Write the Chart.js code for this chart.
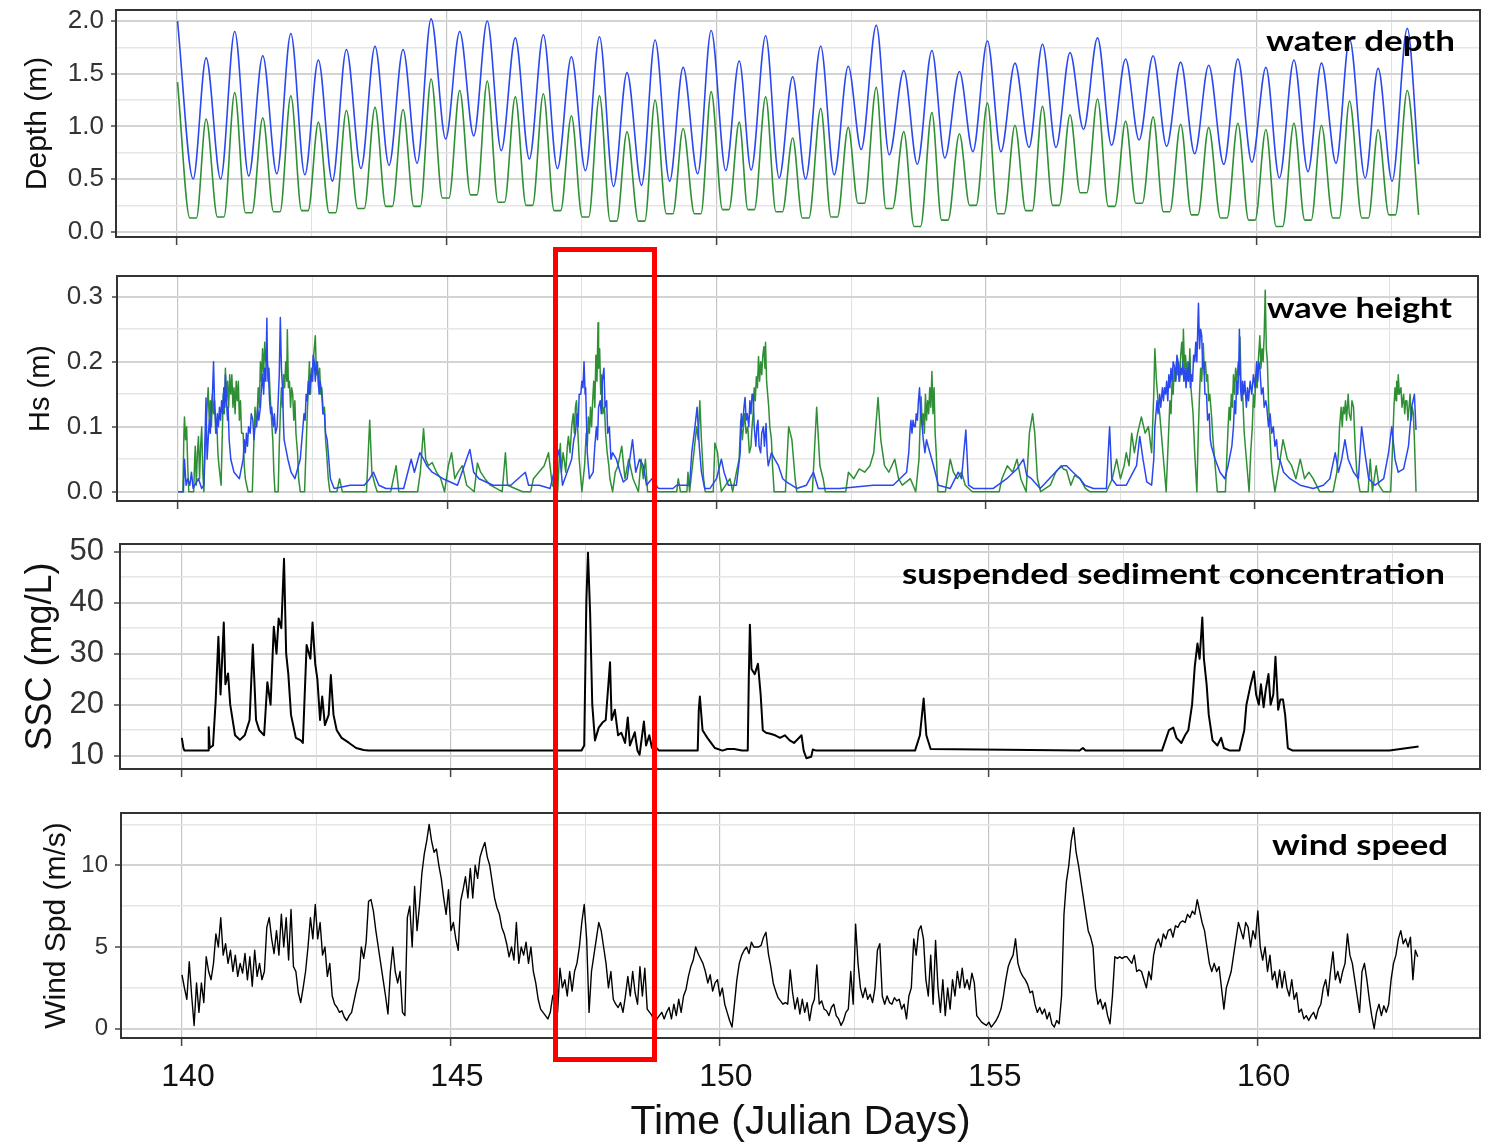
<!DOCTYPE html>
<html><head><meta charset="utf-8">
<script src="https://cdn.jsdelivr.net/npm/chart.js@4.4.1/dist/chart.umd.min.js"></script>
<style>
html,body{margin:0;padding:0;background:#fff;}
#wrap{position:relative;width:1499px;height:1146px;overflow:hidden;background:#fff;}
canvas{position:absolute;left:0;}
#redbox{position:absolute;left:553px;top:247px;width:94px;height:805px;border:5px solid #ff0000;pointer-events:none;}
</style></head>
<body><div id="wrap">
<canvas id="c1" width="1499" height="250" style="top:0px"></canvas>
<canvas id="c2" width="1499" height="270" style="top:250px"></canvas>
<canvas id="c3" width="1499" height="270" style="top:520px"></canvas>
<canvas id="c4" width="1499" height="356" style="top:790px"></canvas>
<div id="redbox"></div>
</div>
<script>
// ---------------- data ----------------
const xMajor = [140,145,150,155,160];
const xMinor = [142.5,147.5,152.5,157.5,162.5];
const depthTicks = [0,0.5,1,1.5,2];  const depthMinor = [0.25,0.75,1.25,1.75];
const hsTicks = [0,0.1,0.2,0.3];     const hsMinor = [0.05,0.15,0.25];
const sscTicks = [10,20,30,40,50];   const sscMinor = [15,25,35,45];
const windTicks = [0,5,10];          const windMinor = [2.5,7.5,12.5];

// water depth (blue sensor): times of high / low water (Julian day) and depth (m)
const depthTime = [140.01,140.30,140.54,140.81,141.07,141.33,141.59,141.85,142.11,142.37,142.62,142.88,143.14,143.41,143.67,143.93,144.19,144.45,144.71,144.98,145.24,145.50,145.75,146.01,146.27,146.53,146.79,147.05,147.31,147.57,147.83,148.09,148.34,148.61,148.86,149.13,149.38,149.65,149.90,150.17,150.42,150.64,150.91,151.16,151.41,151.65,151.93,152.18,152.44,152.68,152.96,153.20,153.47,153.72,153.99,154.23,154.50,154.75,155.02,155.27,155.53,155.79,156.04,156.29,156.55,156.80,157.06,157.32,157.58,157.83,158.09,158.34,158.60,158.86,159.12,159.40,159.66,159.92,160.18,160.43,160.70,160.96,161.21,161.48,161.73,162.02,162.26,162.52,162.80,163.01];
const depthBlue = [2.00,0.50,1.65,0.50,1.90,0.53,1.67,0.55,1.88,0.54,1.63,0.48,1.73,0.60,1.76,0.63,1.73,0.65,2.02,0.88,1.90,0.91,2.00,0.77,1.84,0.69,1.87,0.60,1.66,0.58,1.85,0.43,1.51,0.44,1.82,0.48,1.56,0.55,1.91,0.58,1.62,0.585,1.86,0.51,1.47,0.50,1.76,0.54,1.57,0.78,1.96,0.73,1.53,0.64,1.72,0.70,1.52,0.76,1.81,0.76,1.60,0.80,1.78,0.80,1.70,0.97,1.84,0.82,1.64,0.87,1.67,0.81,1.61,0.74,1.58,0.64,1.64,0.66,1.56,0.51,1.63,0.57,1.60,0.65,1.83,0.51,1.55,0.48,1.93,0.64];
// water depth (green sensor): peaks and the two ends of each flat low-water stretch [day, m]
const depthGreen = [[140.01,1.42],[140.24,0.13],[140.36,0.13],[140.54,1.07],[140.75,0.14],[140.87,0.14],[141.07,1.32],[141.27,0.18],[141.39,0.18],[141.59,1.08],[141.79,0.19],[141.91,0.19],[142.11,1.29],[142.31,0.20],[142.43,0.20],[142.62,1.04],[142.82,0.18],[142.94,0.18],[143.14,1.15],[143.35,0.22],[143.47,0.22],[143.67,1.18],[143.87,0.24],[143.99,0.24],[144.19,1.16],[144.39,0.24],[144.51,0.24],[144.71,1.45],[144.92,0.32],[145.04,0.32],[145.24,1.34],[145.44,0.35],[145.56,0.35],[145.75,1.43],[145.95,0.28],[146.07,0.28],[146.27,1.28],[146.47,0.25],[146.59,0.25],[146.79,1.31],[146.99,0.20],[147.11,0.20],[147.31,1.10],[147.51,0.14],[147.63,0.14],[147.83,1.29],[148.03,0.10],[148.15,0.10],[148.34,0.95],[148.55,0.10],[148.67,0.10],[148.86,1.25],[149.07,0.17],[149.19,0.17],[149.38,0.98],[149.59,0.17],[149.71,0.17],[149.90,1.33],[150.11,0.21],[150.23,0.21],[150.42,1.04],[150.58,0.21],[150.70,0.21],[150.91,1.28],[151.10,0.19],[151.22,0.19],[151.41,0.89],[151.59,0.13],[151.71,0.13],[151.93,1.17],[152.12,0.14],[152.24,0.14],[152.44,0.99],[152.62,0.27],[152.74,0.27],[152.96,1.37],[153.14,0.22],[153.26,0.22],[153.47,0.95],[153.66,0.05],[153.78,0.05],[153.99,1.13],[154.17,0.11],[154.29,0.11],[154.50,0.93],[154.69,0.25],[154.81,0.25],[155.02,1.22],[155.21,0.17],[155.33,0.17],[155.53,1.01],[155.73,0.20],[155.85,0.20],[156.04,1.19],[156.23,0.25],[156.35,0.25],[156.55,1.11],[156.74,0.37],[156.86,0.37],[157.06,1.26],[157.26,0.24],[157.38,0.24],[157.58,1.05],[157.77,0.27],[157.89,0.27],[158.09,1.09],[158.28,0.19],[158.40,0.19],[158.60,1.02],[158.80,0.16],[158.92,0.16],[159.12,0.99],[159.34,0.13],[159.46,0.13],[159.66,1.03],[159.86,0.11],[159.98,0.11],[160.18,0.97],[160.37,0.05],[160.49,0.05],[160.70,1.03],[160.90,0.11],[161.02,0.11],[161.21,1.01],[161.42,0.13],[161.54,0.13],[161.73,1.24],[161.96,0.13],[162.08,0.13],[162.26,0.97],[162.46,0.16],[162.58,0.16],[162.80,1.34],[163.01,0.16]];

// wave height [day, Hs m]
const hsBlue = [[140.00,0],[140.10,0],[140.12,0.05],[140.15,0.01],[140.18,0.02],[140.22,0.01],[140.25,0.03],[140.28,0.005],[140.31,0.01],[140.38,0.02],[140.44,0.005],[140.48,0.01],[140.52,0.144],[140.54,0.05],[140.56,0.08],[140.58,0.11],[140.60,0.09],[140.62,0.13],[140.64,0.15],[140.66,0.2],[140.68,0.13],[140.69,0.12],[140.71,0.09],[140.73,0.12],[140.75,0.1],[140.77,0.13],[140.79,0.11],[140.81,0.14],[140.83,0.12],[140.85,0.16],[140.87,0.13],[140.88,0.18],[140.90,0.14],[140.92,0.11],[140.93,0.13],[140.95,0.08],[140.98,0.05],[141.04,0.03],[141.14,0.02],[141.21,0.05],[141.23,0.08],[141.25,0.06],[141.27,0.09],[141.29,0.07],[141.31,0.1],[141.34,0.09],[141.36,0.12],[141.39,0.11],[141.41,0.08],[141.43,0.1],[141.46,0.1],[141.48,0.13],[141.50,0.11],[141.53,0.13],[141.55,0.16],[141.57,0.18],[141.59,0.15],[141.61,0.19],[141.63,0.17],[141.65,0.267],[141.66,0.2],[141.68,0.18],[141.70,0.14],[141.72,0.12],[141.74,0.13],[141.77,0.1],[141.79,0.12],[141.81,0.09],[141.84,0.1],[141.86,0.14],[141.88,0.18],[141.90,0.268],[141.92,0.19],[141.94,0.16],[141.96,0.1],[141.97,0.08],[142.04,0.05],[142.10,0.03],[142.17,0.02],[142.27,0.05],[142.30,0.08],[142.32,0.1],[142.34,0.12],[142.36,0.11],[142.38,0.15],[142.40,0.14],[142.42,0.17],[142.44,0.15],[142.47,0.18],[142.49,0.17],[142.51,0.21],[142.53,0.2],[142.55,0.17],[142.57,0.2],[142.60,0.18],[142.62,0.15],[142.64,0.17],[142.67,0.15],[142.69,0.12],[142.72,0.12],[142.74,0.09],[142.77,0.08],[142.83,0.02],[142.90,0.005],[143.20,0.01],[143.46,0.01],[143.56,0.02],[143.63,0.03],[143.73,0.01],[143.86,0.005],[144.19,0.005],[144.33,0.05],[144.39,0.03],[144.49,0.06],[144.56,0.05],[144.62,0.04],[144.72,0.03],[144.92,0.02],[145.19,0.01],[145.42,0.065],[145.49,0.03],[145.59,0.02],[145.85,0.01],[146.18,0.01],[146.45,0.03],[146.51,0.01],[146.71,0.01],[146.91,0.005],[147.08,0.065],[147.14,0.01],[147.31,0.05],[147.35,0.08],[147.38,0.09],[147.41,0.12],[147.43,0.1],[147.45,0.15],[147.48,0.15],[147.50,0.17],[147.52,0.16],[147.54,0.2],[147.56,0.15],[147.57,0.16],[147.60,0.06],[147.64,0.02],[147.71,0.03],[147.74,0.07],[147.77,0.1],[147.79,0.08],[147.81,0.13],[147.84,0.14],[147.86,0.12],[147.88,0.17],[147.91,0.19],[147.93,0.13],[147.96,0.14],[147.98,0.09],[148.01,0.1],[148.04,0.05],[148.07,0.06],[148.14,0.05],[148.21,0.03],[148.27,0.015],[148.34,0.02],[148.44,0.08],[148.50,0.03],[148.57,0.05],[148.64,0.04],[148.70,0.01],[148.80,0.02],[148.92,0.005],[149.19,0.005],[149.26,0.01],[149.50,0.01],[149.54,0.06],[149.60,0.1],[149.64,0.13],[149.68,0.07],[149.72,0.03],[149.78,0.005],[149.88,0.005],[150.00,0.02],[150.09,0.05],[150.14,0.03],[150.22,0.01],[150.37,0.01],[150.44,0.06],[150.46,0.12],[150.48,0.1],[150.51,0.13],[150.53,0.145],[150.55,0.11],[150.57,0.12],[150.60,0.1],[150.62,0.14],[150.64,0.12],[150.66,0.15],[150.68,0.15],[150.70,0.1],[150.73,0.07],[150.75,0.1],[150.77,0.11],[150.79,0.07],[150.82,0.06],[150.84,0.09],[150.87,0.1],[150.89,0.07],[150.92,0.105],[150.94,0.06],[150.96,0.04],[151.02,0.06],[151.08,0.05],[151.15,0.04],[151.23,0.02],[151.30,0.015],[151.49,0.005],[151.67,0.01],[151.80,0.03],[151.89,0.005],[152.29,0.005],[152.91,0.01],[153.00,0.01],[153.28,0.01],[153.53,0.03],[153.57,0.06],[153.59,0.09],[153.61,0.11],[153.63,0.09],[153.65,0.11],[153.67,0.1],[153.69,0.1],[153.71,0.12],[153.73,0.11],[153.75,0.14],[153.77,0.16],[153.79,0.12],[153.81,0.11],[153.84,0.08],[153.87,0.06],[153.90,0.08],[153.93,0.07],[154.03,0.04],[154.12,0.01],[154.34,0.005],[154.49,0.03],[154.55,0.02],[154.63,0.095],[154.68,0.01],[154.77,0.005],[155.14,0.005],[155.39,0.02],[155.58,0.035],[155.70,0.05],[155.76,0.025],[155.85,0.02],[156.01,0.005],[156.35,0.035],[156.44,0.04],[156.50,0.04],[156.62,0.03],[156.75,0.02],[156.84,0.01],[157.00,0.005],[157.24,0.005],[157.30,0.1],[157.34,0.02],[157.43,0.01],[157.61,0.01],[157.80,0.04],[157.86,0.085],[157.92,0.05],[157.99,0.015],[158.08,0.01],[158.12,0.05],[158.14,0.1],[158.16,0.12],[158.18,0.14],[158.20,0.12],[158.23,0.15],[158.25,0.13],[158.28,0.16],[158.30,0.14],[158.32,0.16],[158.34,0.15],[158.36,0.17],[158.38,0.14],[158.40,0.18],[158.42,0.16],[158.44,0.19],[158.46,0.17],[158.48,0.2],[158.51,0.19],[158.53,0.17],[158.55,0.21],[158.57,0.2],[158.59,0.17],[158.62,0.19],[158.64,0.18],[158.66,0.2],[158.68,0.17],[158.70,0.19],[158.72,0.16],[158.74,0.19],[158.76,0.17],[158.78,0.2],[158.80,0.16],[158.82,0.18],[158.84,0.17],[158.86,0.21],[158.88,0.2],[158.90,0.23],[158.92,0.2],[158.94,0.26],[158.95,0.29],[158.97,0.22],[158.99,0.25],[159.01,0.24],[159.03,0.19],[159.05,0.2],[159.07,0.15],[159.10,0.15],[159.12,0.11],[159.15,0.12],[159.17,0.08],[159.19,0.07],[159.26,0.05],[159.35,0.03],[159.44,0.02],[159.50,0.04],[159.57,0.07],[159.60,0.1],[159.62,0.14],[159.64,0.12],[159.66,0.17],[159.68,0.15],[159.70,0.2],[159.71,0.25],[159.73,0.16],[159.75,0.14],[159.77,0.17],[159.79,0.15],[159.81,0.17],[159.84,0.13],[159.86,0.16],[159.88,0.14],[159.91,0.17],[159.94,0.15],[159.97,0.18],[160.00,0.16],[160.03,0.2],[160.05,0.17],[160.07,0.2],[160.09,0.19],[160.12,0.15],[160.15,0.16],[160.17,0.13],[160.20,0.14],[160.22,0.13],[160.25,0.1],[160.28,0.12],[160.31,0.09],[160.34,0.1],[160.37,0.07],[160.40,0.08],[160.43,0.05],[160.46,0.05],[160.53,0.03],[160.65,0.02],[160.84,0.01],[161.08,0.005],[161.27,0.01],[161.39,0.02],[161.49,0.06],[161.55,0.03],[161.61,0.05],[161.67,0.08],[161.73,0.05],[161.83,0.03],[161.92,0.02],[161.98,0.1],[162.04,0.06],[162.11,0.02],[162.23,0.01],[162.39,0.02],[162.48,0.06],[162.54,0.1],[162.60,0.05],[162.66,0.03],[162.76,0.035],[162.85,0.07],[162.91,0.13],[162.96,0.15],[162.99,0.095]];
const hsGreen = [[140.00,0],[140.09,0],[140.11,0.09],[140.12,0.115],[140.14,0.08],[140.16,0.10],[140.18,0.04],[140.20,0],[140.29,0],[140.31,0.05],[140.32,0.07],[140.34,0.01],[140.36,0.06],[140.38,0.085],[140.40,0.02],[140.42,0.07],[140.44,0.10],[140.46,0.03],[140.48,0],[140.50,0.06],[140.52,0.10],[140.54,0.13],[140.56,0.16],[140.58,0.11],[140.60,0.14],[140.62,0.10],[140.64,0.15],[140.66,0.12],[140.68,0.14],[140.70,0.09],[140.72,0.11],[140.74,0.06],[140.76,0.04],[140.80,0.01],[140.82,0.08],[140.84,0.15],[140.86,0.12],[140.88,0.19],[140.90,0.14],[140.92,0.17],[140.94,0.13],[140.96,0.18],[140.98,0.15],[141.00,0.18],[141.02,0.13],[141.04,0.16],[141.06,0.12],[141.08,0.17],[141.10,0.14],[141.12,0.17],[141.14,0.11],[141.16,0.14],[141.18,0.09],[141.21,0.09],[141.23,0.04],[141.25,0.02],[141.30,0],[141.38,0],[141.41,0.08],[141.43,0.13],[141.45,0.10],[141.47,0.12],[141.49,0.16],[141.51,0.13],[141.53,0.2],[141.55,0.17],[141.57,0.22],[141.59,0.18],[141.61,0.23],[141.63,0.2],[141.65,0.21],[141.67,0.17],[141.69,0.19],[141.71,0.15],[141.73,0.12],[141.76,0.08],[141.78,0.03],[141.80,0],[141.86,0],[141.88,0.07],[141.90,0.12],[141.92,0.16],[141.94,0.13],[141.96,0.18],[141.98,0.16],[142.00,0.20],[142.02,0.17],[142.03,0.249],[142.05,0.16],[142.07,0.17],[142.09,0.13],[142.11,0.16],[142.13,0.15],[142.15,0.11],[142.17,0.14],[142.19,0.09],[142.22,0.06],[142.24,0.02],[142.27,0],[142.35,0],[142.38,0.07],[142.40,0.12],[142.42,0.16],[142.44,0.2],[142.46,0.15],[142.48,0.19],[142.50,0.17],[142.52,0.21],[142.55,0.24],[142.57,0.18],[142.59,0.2],[142.61,0.16],[142.63,0.19],[142.65,0.15],[142.67,0.16],[142.70,0.12],[142.72,0.13],[142.74,0.08],[142.76,0.06],[142.79,0.02],[142.82,0],[142.95,0],[143.00,0.02],[143.05,0],[143.50,0],[143.56,0.11],[143.60,0.03],[143.66,0.01],[143.70,0],[143.95,0],[144.00,0.02],[144.05,0.04],[144.10,0],[144.45,0],[144.50,0.03],[144.53,0.064],[144.56,0.097],[144.60,0.05],[144.65,0.04],[144.72,0.045],[144.80,0.03],[144.88,0.02],[144.95,0],[145.02,0.04],[145.08,0.06],[145.14,0.02],[145.20,0.03],[145.28,0.04],[145.36,0.01],[145.50,0],[145.56,0.044],[145.62,0.03],[145.70,0.02],[145.80,0.01],[146.02,0],[146.08,0.06],[146.12,0.01],[146.40,0],[146.55,0],[146.60,0.02],[146.70,0.03],[146.80,0.04],[146.88,0.06],[146.95,0.01],[147.05,0],[147.08,0.05],[147.10,0.074],[147.12,0.03],[147.15,0.06],[147.17,0.05],[147.20,0.03],[147.23,0.07],[147.25,0.085],[147.28,0.06],[147.31,0.1],[147.34,0.12],[147.36,0.09],[147.38,0.13],[147.40,0.14],[147.42,0.1],[147.45,0.05],[147.50,0],[147.55,0.04],[147.58,0.09],[147.60,0.07],[147.62,0.115],[147.64,0.09],[147.66,0.13],[147.68,0.1],[147.70,0.14],[147.72,0.17],[147.74,0.13],[147.76,0.21],[147.78,0.17],[147.80,0.26],[147.81,0.19],[147.83,0.22],[147.85,0.15],[147.87,0.18],[147.89,0.12],[147.92,0.13],[147.94,0.09],[147.97,0.06],[148.00,0.04],[148.02,0.02],[148.07,0],[148.12,0.03],[148.17,0.04],[148.24,0.07],[148.30,0.02],[148.37,0.05],[148.45,0.02],[148.55,0],[148.60,0.05],[148.64,0.02],[148.68,0.05],[148.72,0],[149.26,0],[149.29,0.02],[149.33,0],[149.45,0],[149.47,0.03],[149.50,0],[149.58,0.06],[149.63,0.1],[149.66,0.08],[149.69,0.14],[149.72,0.08],[149.76,0.02],[149.79,0],[149.94,0],[149.97,0.075],[150.02,0.06],[150.06,0.02],[150.09,0],[150.25,0.02],[150.30,0],[150.37,0.03],[150.42,0.05],[150.45,0.11],[150.48,0.08],[150.52,0.12],[150.55,0.09],[150.58,0.1],[150.61,0.06],[150.64,0.07],[150.66,0.1],[150.68,0.12],[150.70,0.16],[150.72,0.14],[150.74,0.177],[150.76,0.16],[150.78,0.208],[150.80,0.17],[150.82,0.2],[150.84,0.18],[150.86,0.21],[150.88,0.223],[150.90,0.19],[150.91,0.23],[150.93,0.17],[150.95,0.15],[150.97,0.13],[150.99,0.1],[151.02,0.08],[151.04,0.04],[151.07,0],[151.28,0],[151.34,0.1],[151.40,0.08],[151.46,0.02],[151.49,0],[151.78,0],[151.86,0.13],[151.92,0.04],[151.98,0.02],[152.02,0],[152.40,0],[152.45,0.03],[152.55,0.02],[152.65,0.035],[152.75,0.03],[152.85,0.04],[152.92,0.06],[153.00,0.145],[153.05,0.08],[153.12,0.04],[153.20,0.03],[153.31,0.05],[153.38,0.02],[153.45,0.01],[153.60,0.02],[153.70,0],[153.76,0.05],[153.78,0.1],[153.80,0.146],[153.82,0.1],[153.84,0.12],[153.86,0.09],[153.88,0.15],[153.90,0.11],[153.92,0.14],[153.94,0.12],[153.96,0.16],[153.98,0.13],[154.00,0.185],[154.02,0.12],[154.04,0.16],[154.06,0.09],[154.08,0.06],[154.11,0],[154.25,0],[154.34,0.05],[154.40,0.03],[154.47,0.02],[154.55,0.03],[154.62,0.01],[154.75,0],[155.25,0],[155.30,0.02],[155.40,0.04],[155.50,0.03],[155.58,0.05],[155.65,0.02],[155.75,0],[155.81,0.09],[155.87,0.12],[155.91,0.09],[155.96,0.02],[156.02,0],[156.20,0.01],[156.30,0.03],[156.40,0.04],[156.44,0.035],[156.50,0.033],[156.58,0.01],[156.65,0.025],[156.75,0.02],[156.85,0.005],[156.93,0],[157.24,0],[157.35,0.02],[157.43,0.05],[157.50,0.02],[157.57,0.04],[157.61,0.06],[157.66,0.04],[157.71,0.09],[157.76,0.06],[157.82,0.09],[157.89,0.115],[157.96,0.09],[158.02,0.1],[158.08,0.06],[158.12,0.15],[158.14,0.22],[158.17,0.17],[158.20,0.14],[158.23,0.12],[158.30,0.05],[158.35,0],[158.38,0.06],[158.40,0.1],[158.42,0.14],[158.44,0.12],[158.46,0.17],[158.48,0.15],[158.50,0.19],[158.52,0.17],[158.54,0.2],[158.56,0.18],[158.58,0.2],[158.60,0.17],[158.62,0.21],[158.64,0.23],[158.66,0.2],[158.67,0.25],[158.69,0.19],[158.71,0.21],[158.73,0.18],[158.75,0.2],[158.77,0.17],[158.79,0.22],[158.81,0.16],[158.83,0.14],[158.85,0.12],[158.88,0.06],[158.92,0],[158.95,0.1],[158.97,0.15],[158.99,0.19],[159.01,0.17],[159.03,0.21],[159.04,0.228],[159.06,0.18],[159.08,0.2],[159.10,0.17],[159.12,0.18],[159.14,0.14],[159.16,0.15],[159.19,0.12],[159.22,0.08],[159.25,0.05],[159.30,0],[159.45,0],[159.48,0.06],[159.50,0.1],[159.52,0.13],[159.54,0.11],[159.56,0.15],[159.58,0.13],[159.60,0.18],[159.62,0.15],[159.64,0.19],[159.66,0.17],[159.69,0.2],[159.71,0.18],[159.72,0.238],[159.74,0.17],[159.77,0.15],[159.80,0.09],[159.84,0.05],[159.89,0],[159.92,0.06],[159.95,0.1],[159.97,0.15],[159.99,0.13],[160.02,0.18],[160.04,0.16],[160.06,0.2],[160.09,0.24],[160.11,0.19],[160.13,0.22],[160.15,0.2],[160.17,0.24],[160.19,0.31],[160.21,0.22],[160.23,0.2],[160.25,0.14],[160.27,0.1],[160.30,0.05],[160.32,0.03],[160.37,0],[160.45,0.04],[160.52,0.08],[160.60,0.05],[160.68,0.04],[160.76,0.02],[160.84,0.05],[160.92,0.02],[161.00,0.03],[161.08,0.02],[161.20,0],[161.45,0],[161.52,0.03],[161.55,0.06],[161.57,0.1],[161.60,0.13],[161.62,0.1],[161.64,0.13],[161.66,0.12],[161.68,0.14],[161.70,0.11],[161.73,0.15],[161.75,0.12],[161.78,0.11],[161.80,0.14],[161.83,0.13],[161.86,0.07],[161.89,0.03],[161.95,0],[162.10,0],[162.14,0.05],[162.18,0],[162.25,0.04],[162.30,0.01],[162.38,0],[162.52,0],[162.55,0.06],[162.58,0.13],[162.60,0.16],[162.62,0.14],[162.63,0.17],[162.65,0.15],[162.66,0.18],[162.68,0.15],[162.71,0.16],[162.73,0.13],[162.76,0.15],[162.78,0.12],[162.80,0.14],[162.82,0.14],[162.84,0.11],[162.86,0.13],[162.88,0.15],[162.90,0.11],[162.92,0.13],[162.94,0.12],[162.96,0.08],[162.99,0]];

// suspended sediment concentration [day, mg/L]
const ssc = [[140.00,13.5],[140.03,11.5],[140.05,11.0],[140.49,11.0],[140.50,15.6],[140.52,11.5],[140.58,12.0],[140.63,20.9],[140.68,33.3],[140.72,22],[140.78,36.1],[140.81,24],[140.86,26.1],[140.90,20],[140.99,14],[141.08,13.1],[141.17,14],[141.26,17],[141.32,31.8],[141.38,17],[141.44,15],[141.53,14],[141.59,24.4],[141.65,20],[141.71,35.3],[141.76,30],[141.80,36.9],[141.85,35],[141.90,48.6],[141.94,30],[141.98,26],[142.03,18],[142.12,13.5],[142.21,13],[142.25,12.5],[142.32,31.7],[142.39,29],[142.43,36.1],[142.48,28],[142.52,25],[142.57,17],[142.61,21.6],[142.66,16],[142.73,18],[142.77,25.8],[142.82,18],[142.88,15],[142.97,13.5],[143.11,12.5],[143.24,11.5],[143.38,11.1],[143.47,11.0],[147.43,11.0],[147.48,12],[147.52,40.2],[147.55,49.8],[147.59,38],[147.63,20],[147.68,13],[147.75,15.5],[147.82,16.5],[147.88,17],[147.96,28.3],[147.99,17],[148.05,19],[148.11,14],[148.17,14.5],[148.24,12.5],[148.29,17.5],[148.33,12],[148.42,14.6],[148.47,11],[148.51,10.2],[148.59,16.7],[148.63,12],[148.69,14],[148.74,11.5],[148.78,12],[148.87,11],[149.59,11],[149.61,19],[149.63,21.6],[149.68,15],[149.77,13.5],[149.91,11.5],[150.05,11],[150.14,11.3],[150.27,11.3],[150.41,11],[150.52,11],[150.54,25.5],[150.56,35.7],[150.59,27],[150.65,26],[150.71,28],[150.76,22],[150.80,15],[150.86,14.5],[150.94,14.3],[151.03,14],[151.12,13.5],[151.21,14],[151.30,13],[151.38,12.5],[151.52,14],[151.56,11],[151.61,9.5],[151.70,9.8],[151.73,11.2],[151.79,11],[153.63,11],[153.72,14],[153.79,21.2],[153.84,14],[153.92,11.3],[156.69,11],[156.75,11.5],[156.80,11],[158.22,11],[158.35,15],[158.43,15.5],[158.49,13.5],[158.58,12.5],[158.65,14],[158.71,15],[158.78,20],[158.83,27.5],[158.88,32],[158.92,29],[158.97,37.1],[159.00,29],[159.05,24],[159.09,18],[159.16,13],[159.25,12],[159.32,13.5],[159.37,11.5],[159.48,11],[159.66,11],[159.75,15],[159.79,20],[159.86,23.5],[159.93,26.5],[159.97,22],[160.02,20],[160.06,24],[160.11,19.5],[160.15,23],[160.20,26],[160.24,20],[160.29,22],[160.33,29.4],[160.38,19],[160.42,21],[160.47,21],[160.51,18],[160.56,11.5],[160.65,11],[162.45,11],[162.99,11.8]];

// wind speed (m/s), sampled every windStep days from windStart
const windStart = 140.0, windStep = 0.04505;
const wind = [3.3,2.5,1.8,4.1,2.0,0.2,2.8,1.0,2.8,1.6,4.4,3.5,3.0,4.0,5.8,5.0,6.8,4.5,5.2,4.0,4.8,3.5,4.5,3.2,4.0,3.4,4.6,3.0,4.4,2.6,4.8,3.2,4.0,3.0,3.5,6.2,6.8,5.5,4.6,6.0,4.5,7.0,5.0,6.8,4.2,7.3,3.8,3.5,2.2,1.6,2.5,3.5,5.0,6.8,5.5,7.6,5.5,6.5,4.5,5.0,3.2,4.0,2.0,1.5,1.3,1.0,1.1,0.7,0.5,0.8,1.0,1.7,2.4,3.0,5.0,4.3,5.3,7.8,7.9,7.2,6.0,5.0,4.0,3.0,2.0,0.9,3.5,5.0,3.5,2.8,3.5,1.0,0.8,6.8,7.5,5.0,8.7,6.0,7.5,9.5,10.7,11.5,12.5,11.5,10.8,11.0,10.0,9.2,8.0,7.0,8.5,6.0,6.5,5.5,4.8,7.8,8.5,9.3,8.0,9.8,8.0,10.0,9.2,10.5,11.0,11.4,10.5,10.0,9.0,8.0,7.4,7.0,6.2,5.8,5.2,4.4,5.0,4.2,6.5,4.0,5.0,4.5,5.3,4.0,5.0,3.5,2.8,1.8,1.2,1.0,0.8,0.6,1.0,2.0,2.2,1.0,3.7,2.5,3.0,2.0,3.5,2.3,3.5,4.0,5.0,6.5,7.6,5.5,1.0,3.5,4.5,5.5,6.5,6.0,5.0,4.0,2.5,3.5,1.8,1.5,1.3,1.6,1.0,2.0,3.2,2.0,3.5,2.2,1.5,3.8,2.0,3.7,1.2,1.0,0.8,0.2,0.6,0.8,1.0,0.6,1.0,1.3,0.6,1.5,0.8,1.8,1.0,2.0,2.4,3.2,3.8,4.2,5.0,4.6,4.3,4.0,3.5,2.8,3.3,2.3,2.8,3.0,2.0,2.5,1.5,1.0,0.5,0.1,1.5,3.0,4.0,4.5,4.8,5.0,4.6,5.3,5.0,
5.0,5.0,5.1,5.6,5.9,4.6,3.8,2.8,2.3,1.9,1.7,1.5,1.6,1.5,3.6,2.2,1.2,1.9,0.9,1.8,1.0,1.6,0.5,1.4,1.8,3.9,1.5,1.7,1.2,1.1,0.8,1.3,1.5,0.8,0.6,0.2,0.5,1.0,1.2,3.5,1.5,6.4,4.0,2.5,1.9,2.5,1.8,2.1,1.6,2.5,4.8,5.2,2.0,1.5,2.0,1.6,1.5,1.9,1.7,1.8,1.2,1.5,0.6,2.0,2.5,5.5,4.5,6.0,6.3,5.5,3.0,2.0,4.5,1.5,5.4,2.5,1.0,3.0,0.8,2.5,1.2,3.0,2.0,3.5,2.5,3.7,2.5,3.0,2.4,3.4,2.8,0.8,0.6,0.4,0.3,0.2,0.4,0.1,0.3,0.5,0.8,1.2,2.0,3.0,3.8,4.2,4.5,5.5,4.0,3.5,3.2,3.0,2.7,2.2,2.3,1.5,1.0,1.3,0.9,1.2,0.6,1.0,0.3,0.1,0.5,0.3,2.0,7.0,9.0,10.0,11.5,12.3,10.8,10.0,9.0,8.0,7.0,6.0,5.6,5.0,2.5,1.5,1.8,1.2,1.6,0.8,0.3,2.0,4.4,4.3,4.4,4.3,4.4,4.4,4.2,4.0,4.5,3.5,3.6,3.5,3.0,2.5,3.5,3.0,4.5,5.2,5.5,5.0,5.8,5.5,6.0,6.1,5.6,6.3,6.2,6.5,6.6,6.5,7.0,6.8,7.2,7.0,7.9,7.2,6.5,6.0,5.0,4.0,3.5,4.0,3.5,3.8,2.5,1.2,2.5,3.0,3.5,4.5,5.5,6.5,6.0,5.5,6.5,6.2,5.0,6.0,5.5,7.2,5.0,4.2,5.0,3.5,4.5,3.0,3.5,2.5,3.6,2.5,3.5,2.5,2.0,3.0,1.8,2.2,1.0,1.2,0.6,0.8,0.5,0.8,1.0,0.6,1.2,1.5,2.5,3.0,2.0,3.5,4.7,3.0,3.5,2.8,3.5,4.0,5.8,4.5,4.0,3.0,2.0,1.0,3.5,4.0,3.0,1.8,0.8,0.0,1.0,1.5,0.8,1.4,1.0,1.5,3.0,4.0,4.5,5.5,6.0,5.2,5.5,5.0,5.6,3.0,4.8,4.4];

// ---------------- rendering ----------------
const FONT = "'Liberation Sans', Arial, Helvetica, sans-serif";
const BLUE = '#2a48f0', GREEN = '#2f8f35';
Chart.defaults.font.family = FONT;

function mkTicks(major, minor){
  return major.map(v=>({value:v,isMajor:true}))
    .concat(minor.map(v=>({value:v,isMajor:false})))
    .sort((a,b)=>a.value-b.value);
}
function pairs(arr){ return arr.map(p=>({x:p[0],y:p[1]})); }

function framePlugin(o){
  return {
    id:'frame',
    afterDatasetsDraw(chart){
      const ctx = chart.ctx;
      ctx.save();
      ctx.font = 'bold 29px Lato, "Open Sans", sans-serif';
      ctx.fillStyle = '#000';
      ctx.textAlign = 'right'; ctx.textBaseline = 'alphabetic';
      const w = ctx.measureText(o.label).width;
      ctx.translate(o.labelRight, o.labelBase);
      ctx.scale(o.labelWidth / w, 1);
      ctx.fillText(o.label, 0, 0);
      ctx.restore();
    },
    afterDraw(chart){
      const {ctx, chartArea:a} = chart;
      ctx.save();
      ctx.strokeStyle = '#333'; ctx.lineWidth = 2;
      ctx.strokeRect(a.left, a.top, a.right-a.left, a.bottom-a.top);
      ctx.restore();
    }
  };
}

function panel(id, o){
  const xt = mkTicks(xMajor, xMinor);
  const yt = mkTicks(o.yMajor, o.yMinor);
  const isMaj = c => !!(c.tick && c.tick.isMajor);
  return new Chart(document.getElementById(id), {
    type:'line',
    data:{datasets:o.datasets},
    options:{
      responsive:false, animation:false, devicePixelRatio:1,
      layout:{autoPadding:false, padding:{top:o.top, right:o.right, left:0, bottom:0}},
      plugins:{legend:{display:false}, tooltip:{enabled:false}},
      elements:{point:{radius:0}, line:{borderJoinStyle:'round'}},
      scales:{
        x:{type:'linear', min:o.xmin, max:o.xmax,
          afterBuildTicks:s=>{ s.ticks = xt.map(t=>({...t})); },
          afterFit:s=>{ s.height=o.xh; s.paddingLeft=0; s.paddingRight=0; s.paddingTop=0; s.paddingBottom=0; },
          border:{display:false},
          grid:{color:c=>isMaj(c)?'#c6c6c6':'#e0e0e0', lineWidth:c=>isMaj(c)?1.2:1,
                tickColor:c=>isMaj(c)?'#444':'rgba(0,0,0,0)', tickLength:8, tickWidth:1.5, drawTicks:true},
          ticks:{autoSkip:false, maxRotation:0, minRotation:0, padding:o.xpad||0, labelOffset:o.xlo||0,
                 font:{family:FONT,size:o.xfs||12}, color:'#111',
                 callback:(v,i,t)=> (o.xLabels && t[i] && t[i].isMajor) ? String(v) : ''},
          title: o.xtitle ? {display:true, text:o.xtitle, color:'#111', font:{family:FONT,size:o.xtfs,lineHeight:1}, padding:{top:0,bottom:o.xtpb}} : {display:false}
        },
        y:{type:'linear', min:o.ymin, max:o.ymax,
          afterBuildTicks:s=>{ s.ticks = yt.map(t=>({...t})); },
          afterFit:s=>{ s.width=o.yw; s.paddingLeft=0; s.paddingRight=0; s.paddingTop=0; s.paddingBottom=0; },
          border:{display:false},
          grid:{color:c=>isMaj(c)?'#d3d3d3':'#e6e6e6', lineWidth:c=>isMaj(c)?2:1.4,
                tickColor:c=>isMaj(c)?'#444':'rgba(0,0,0,0)', tickLength:o.ytl, tickWidth:1.5, drawTicks:true},
          ticks:{autoSkip:false, padding:o.ypad, font:{family:FONT,size:o.yfs}, color:'#333',
                 callback:(v,i,t)=> (t[i] && t[i].isMajor) ? o.fmt(v) : ''},
          title:{display:true, text:o.ytitle, color:'#111', font:{family:FONT,size:o.ytfs}, padding:{top:o.ytpad,bottom:0}}
        }
      }
    },
    plugins:[framePlugin(o)]
  });
}

panel('c1', {
  top:10, right:19, yw:116, xh:13, xmin:138.870, xmax:164.148, ymin:-0.0503, ymax:2.1044,
  yMajor:depthTicks, yMinor:depthMinor, yfs:26, ytl:5, ypad:7, fmt:v=>v.toFixed(1),
  ytitle:'Depth (m)', ytfs:30, ytpad:19.5,
  label:'water depth', labelRight:1455, labelBase:51, labelWidth:189,
  datasets:[
    {data:depthTime.map((t,i)=>({x:t,y:depthBlue[i]})), borderColor:BLUE, borderWidth:1.6, cubicInterpolationMode:'monotone'},
    {data:pairs(depthGreen), borderColor:GREEN, borderWidth:1.6, cubicInterpolationMode:'monotone'}
  ]
});
panel('c2', {
  top:26, right:21, yw:117, xh:19, xmin:138.867, xmax:164.141, ymin:-0.0143, ymax:0.3318,
  yMajor:hsTicks, yMinor:hsMinor, yfs:26, ytl:5, ypad:9, fmt:v=>v.toFixed(1),
  ytitle:'Hs (m)', ytfs:29, ytpad:23.6,
  label:'wave height', labelRight:1452, labelBase:68, labelWidth:185,
  datasets:[
    {data:pairs(hsBlue), borderColor:BLUE, borderWidth:1.5},
    {data:pairs(hsGreen), borderColor:GREEN, borderWidth:1.5}
  ]
});
panel('c3', {
  top:24, right:19, yw:120, xh:21, xmin:138.851, xmax:164.132, ymin:7.39, ymax:51.51,
  yMajor:sscTicks, yMinor:sscMinor, yfs:31, ytl:6, ypad:10, fmt:v=>String(v),
  ytitle:'SSC (mg/L)', ytfs:36, ytpad:19.4,
  label:'suspended sediment concentration', labelRight:1445, labelBase:64, labelWidth:543,
  datasets:[
    {data:pairs(ssc), borderColor:'#000', borderWidth:2}
  ]
});
panel('c4', {
  top:23, right:19, yw:121, xh:108, xmin:138.866, xmax:164.133, ymin:-0.569, ymax:13.2,
  yMajor:windTicks, yMinor:windMinor, yfs:24, ytl:6, ypad:7, fmt:v=>String(v),
  ytitle:'Wind Spd (m/s)', ytfs:30, ytpad:39,
  xLabels:true, xfs:32, xpad:11.8, xlo:6, xtitle:'Time (Julian Days)', xtfs:41, xtpb:2.8,
  label:'wind speed', labelRight:1448, labelBase:65, labelWidth:176,
  datasets:[
    {data:wind.map((v,i)=>({x:windStart+i*windStep, y:v})), borderColor:'#000', borderWidth:1.4}
  ]
});
</script>
</body></html>
